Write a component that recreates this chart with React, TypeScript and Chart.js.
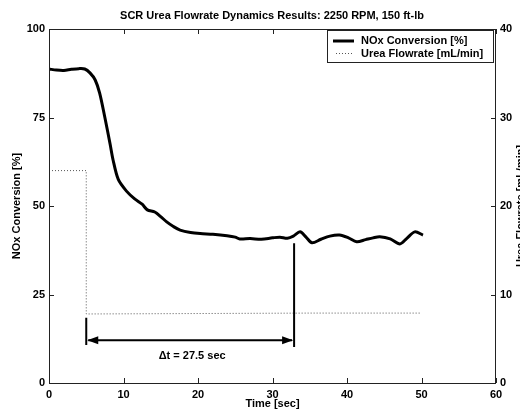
import React, { useEffect, useRef } from "react";
import { Chart, registerables } from "chart.js";

Chart.register(...registerables);

const chartTitle = "SCR Urea Flowrate Dynamics Results: 2250 RPM, 150 ft-lb";
const xTitle = "Time [sec]";
const yTitle = "NOx Conversion [%]";
const y2Title = "Urea Flowrate [mL/min]";
const noxLabel = "NOx Conversion [%]";
const ureaLabel = "Urea Flowrate [mL/min]";

const noxTime = [0, 1, 2, 3, 4, 4.8, 5.5, 6.2, 6.8, 7.5, 8.2, 8.6, 9.3, 10.4, 11.5, 12.5, 13.2, 14.2, 15, 15.8, 16.7, 17.6, 19, 20.3, 22, 23.9, 25, 25.6, 27, 28.5, 30, 31, 32, 32.8, 33.7, 34.5, 35.3, 36.5, 37.7, 39, 40.2, 41.3, 42.5, 43.5, 44.4, 45.8, 47.1, 48, 49.1, 50.2];
const noxValues = [88.7, 88.4, 88.3, 88.6, 88.8, 88.7, 87.6, 85.6, 81.9, 75, 67.5, 63, 57.5, 54.2, 52, 50.5, 48.9, 48.3, 47, 45.5, 44.2, 43.2, 42.5, 42.2, 42, 41.6, 41.2, 40.7, 40.8, 40.6, 41, 41.2, 40.9, 41.5, 42.7, 41.2, 39.6, 40.6, 41.5, 41.8, 41, 39.9, 40.5, 41, 41.3, 40.7, 39.3, 40.8, 42.7, 41.8];

const ureaTime = [0, 5, 5, 20, 35, 50];
const ureaValues = [24, 24, 7.8, 7.85, 7.9, 7.9];

const xTicks = [0, 10, 20, 30, 40, 50, 60];
const yTicks = [0, 25, 50, 75, 100];
const y2Ticks = [0, 10, 20, 30, 40];

const dtStart = 5;
const dtEnd = 32.9;
const dtArrowY = 12.1;
const dtLeftLine = [10.7, 18.4];
const dtRightLine = [10.2, 39.5];
const dtTextY = 7.6;
const dtText = "\u0394t = 27.5 sec";

const FONT = '"Liberation Sans", Arial, sans-serif';

const overlay = {
  id: "overlay",
  afterDraw(chart: any) {
    const ctx = chart.ctx;
    const { left, right, top, bottom } = chart.chartArea;
    const xs = chart.scales.x;
    const ys = chart.scales.y;
    const y2s = chart.scales.y2;
    ctx.save();
    ctx.strokeStyle = "#222";
    ctx.lineWidth = 1;
    ctx.strokeRect(Math.round(left) + 0.5, Math.round(top) + 0.5, Math.round(right - left) - 1, Math.round(bottom - top));
    const tl = 5;
    ctx.beginPath();
    xTicks.forEach((v) => {
      const px = Math.round(xs.getPixelForValue(v)) + 0.5;
      ctx.moveTo(px, bottom);
      ctx.lineTo(px, bottom - tl);
      ctx.moveTo(px, top);
      ctx.lineTo(px, top + tl);
    });
    yTicks.forEach((v) => {
      const py = Math.round(ys.getPixelForValue(v)) + 0.5;
      ctx.moveTo(left, py);
      ctx.lineTo(left + tl, py);
    });
    y2Ticks.forEach((v) => {
      const py = Math.round(y2s.getPixelForValue(v)) + 0.5;
      ctx.moveTo(right, py);
      ctx.lineTo(right - tl, py);
    });
    ctx.stroke();

    ctx.strokeStyle = "#000";
    ctx.fillStyle = "#000";
    ctx.lineWidth = 2;
    const x1 = xs.getPixelForValue(dtStart);
    const x2 = xs.getPixelForValue(dtEnd);
    const ay = ys.getPixelForValue(dtArrowY);
    ctx.beginPath();
    ctx.moveTo(x1, ys.getPixelForValue(dtLeftLine[0]));
    ctx.lineTo(x1, ys.getPixelForValue(dtLeftLine[1]));
    ctx.moveTo(x2, ys.getPixelForValue(dtRightLine[0]));
    ctx.lineTo(x2, ys.getPixelForValue(dtRightLine[1]));
    ctx.moveTo(x1 + 2, ay);
    ctx.lineTo(x2 - 2, ay);
    ctx.stroke();
    const ah = 11, aw = 4;
    ctx.beginPath();
    ctx.moveTo(x1 + 1, ay);
    ctx.lineTo(x1 + 1 + ah, ay - aw);
    ctx.lineTo(x1 + 1 + ah, ay + aw);
    ctx.closePath();
    ctx.moveTo(x2 - 1, ay);
    ctx.lineTo(x2 - 1 - ah, ay - aw);
    ctx.lineTo(x2 - 1 - ah, ay + aw);
    ctx.closePath();
    ctx.fill();
    ctx.font = `bold 11px ${FONT}`;
    ctx.textAlign = "center";
    ctx.textBaseline = "middle";
    ctx.fillText(dtText, (x1 + x2) / 2 + 2, ys.getPixelForValue(dtTextY));

    const lx = 327, ly = 30, lw = 166, lh = 32;
    ctx.fillStyle = "#fff";
    ctx.fillRect(lx, ly, lw, lh);
    ctx.strokeStyle = "#222";
    ctx.lineWidth = 1;
    ctx.strokeRect(lx + 0.5, ly + 0.5, lw, lh);
    ctx.strokeStyle = "#000";
    ctx.lineWidth = 3;
    ctx.beginPath();
    ctx.moveTo(333, 41);
    ctx.lineTo(354, 41);
    ctx.stroke();
    ctx.strokeStyle = "#555";
    ctx.lineWidth = 1;
    ctx.setLineDash([1, 2]);
    ctx.beginPath();
    ctx.moveTo(336, 53.5);
    ctx.lineTo(354, 53.5);
    ctx.stroke();
    ctx.setLineDash([]);
    ctx.fillStyle = "#000";
    ctx.textAlign = "left";
    ctx.fillText(noxLabel, 361, 41);
    ctx.fillText(ureaLabel, 361, 53.5);

    ctx.textAlign = "center";
    ctx.fillText(chartTitle, 272, 16);
    ctx.fillText(xTitle, (left + right) / 2, 404);
    ctx.save();
    ctx.translate(17, (top + bottom) / 2);
    ctx.rotate(-Math.PI / 2);
    ctx.fillText(yTitle, 0, 0);
    ctx.restore();
    ctx.save();
    ctx.translate(521, (top + bottom) / 2);
    ctx.rotate(-Math.PI / 2);
    ctx.fillText(y2Title, 0, 0);
    ctx.restore();
    ctx.restore();
  },
};

export default function App() {
  const ref = useRef<HTMLCanvasElement>(null);
  useEffect(() => {
    document.body.style.margin = "0";
    document.documentElement.style.overflow = "hidden";
    document.body.style.overflow = "hidden";
    if (!ref.current) return;
    const tickFont = { family: FONT, size: 11, weight: "bold" as const };
    const chart = new Chart(ref.current, {
      type: "line",
      data: {
        datasets: [
          {
            label: noxLabel,
            data: noxTime.map((t, i) => ({ x: t, y: noxValues[i] })),
            borderColor: "#000",
            borderWidth: 3,
            pointRadius: 0,
            tension: 0.3,
            yAxisID: "y",
          },
          {
            label: ureaLabel,
            data: ureaTime.map((t, i) => ({ x: t, y: ureaValues[i] })),
            borderColor: "#555",
            borderWidth: 1,
            borderDash: [1, 2],
            pointRadius: 0,
            tension: 0,
            yAxisID: "y2",
          },
        ],
      },
      options: {
        animation: false,
        responsive: false,
        devicePixelRatio: 1,
        layout: { padding: { top: 29, left: 0, right: 0, bottom: 0 } },
        plugins: { legend: { display: false }, title: { display: false }, tooltip: { enabled: false } },
        scales: {
          x: {
            type: "linear",
            min: 0,
            max: 60,
            grid: { display: false, drawTicks: false },
            border: { display: false },
            ticks: { stepSize: 10, color: "#000", font: tickFont, padding: 5, maxRotation: 0 },
            afterFit: (s: any) => { s.height = 31; },
          },
          y: {
            position: "left",
            min: 0,
            max: 100,
            grid: { display: false, drawTicks: false },
            border: { display: false },
            ticks: { stepSize: 25, color: "#000", font: tickFont, padding: 4 },
            afterFit: (s: any) => { s.width = 49; },
          },
          y2: {
            position: "right",
            min: 0,
            max: 40,
            grid: { display: false, drawTicks: false },
            border: { display: false },
            ticks: { stepSize: 10, color: "#000", font: tickFont, padding: 4 },
            afterFit: (s: any) => { s.width = 24; },
          },
        },
      },
      plugins: [overlay],
    });
    return () => chart.destroy();
  }, []);
  return (
    <div style={{ position: "absolute", left: 0, top: 0, width: 520, height: 414, background: "#fff", overflow: "hidden" }}>
      <canvas ref={ref} width={520} height={414} style={{ display: "block", width: 520, height: 414 }} />
    </div>
  );
}
